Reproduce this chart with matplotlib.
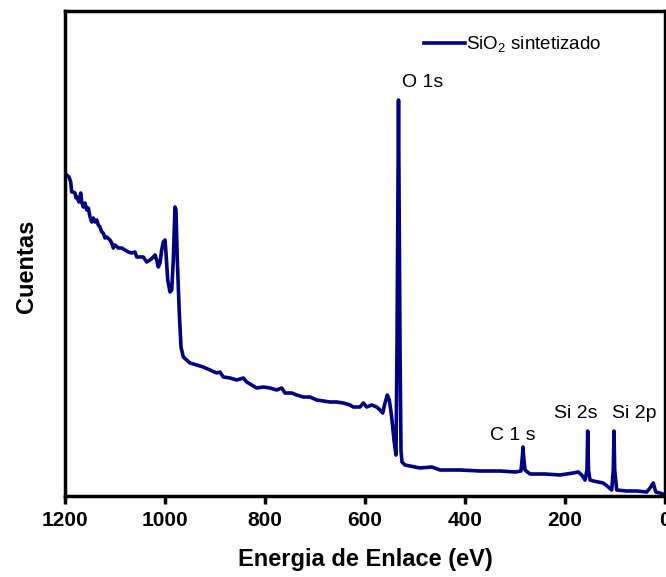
import numpy as np
import matplotlib
matplotlib.use('Agg')
import matplotlib.pyplot as plt

plt.rcParams['font.family'] = ['Liberation Sans', 'DejaVu Sans']
plt.rcParams['mathtext.fontset'] = 'custom'
plt.rcParams['mathtext.rm'] = 'Liberation Sans'

# binding energy (eV) and counts (arbitrary units)
energy = [1200, 1196.6, 1192, 1188.6, 1186.6, 1184, 1180, 1178, 1176, 1172, 1168.6,
          1166.6, 1163.4, 1160, 1156.6, 1153.4, 1150, 1146.6, 1143.4, 1140, 1136.6,
          1133.4, 1130, 1126.6, 1123.4, 1120, 1116.6, 1110, 1106.6, 1103.4, 1100,
          1093.4, 1086.6, 1080, 1073.4, 1066.6, 1060, 1056.6, 1050, 1043.4, 1036.6,
          1030, 1023.4, 1020, 1016.6, 1013.4, 1010, 1006.6, 1003.4, 1000, 998,
          994.6, 990, 986.6, 983.4, 980, 978, 975.4, 971.4, 968, 963.4, 956.6,
          950, 936.6, 923.4, 910, 896.6, 890, 883.4, 870, 856.6, 843.4, 836.6,
          826.6, 816.6, 803.4, 790, 776.6, 766.6, 760, 746.6, 736.6, 723.4, 710,
          696.6, 683.4, 670, 656.6, 643.4, 630, 623.4, 610, 603.4, 596.6, 586.6,
          576.6, 570, 564.6, 560, 555.4, 551.4, 546.6, 542, 538, 536, 533, 530,
          528, 526, 520, 510, 490, 466, 450, 410, 370, 330, 300, 288, 285, 284,
          283, 280, 270, 240, 210, 196.6, 183.4, 173.4, 166.6, 160, 156, 154.6,
          153, 150, 143.4, 133.4, 123.4, 113.4, 106.6, 103.4, 102, 100.6, 96.6,
          76.6, 56.6, 36.6, 30, 23.4, 18.6, 10, 0]
counts = [321, 321, 319, 314, 304, 304, 303, 298, 299, 294, 303,
          294, 289, 293, 286, 288, 279, 274, 278, 274, 276,
          271, 269, 264, 263, 258, 259, 256, 253, 248, 251,
          248, 248, 246, 244, 243, 244, 239, 239, 239, 234,
          236, 239, 241, 236, 229, 233, 246, 254, 256, 243,
          216, 204, 206, 236, 289, 286, 236, 183, 149, 139, 136,
          133, 131, 129, 126, 123, 124, 119, 118, 116, 118, 114,
          111, 108, 109, 108, 106, 108, 103, 103, 101, 99, 99,
          96, 95, 94, 94, 93, 91, 89, 89, 93, 89, 91,
          89, 86, 83, 93, 101, 96, 79, 56, 41, 150, 396, 150,
          45, 34, 31, 30, 28, 29, 26, 26, 25, 25, 24, 25, 41, 49,
          41, 26, 22, 22, 21, 22, 23, 24, 21, 16, 26, 65,
          26, 16, 15, 14, 13, 9, 6, 26, 65, 26, 6,
          5, 5, 4, 8, 13, 4, 3, 1]

peak_labels = ['O 1s', 'C 1 s', 'Si 2s', 'Si 2p']
peak_x = [526, 350, 222, 106]
peak_y = [409, 56, 78, 78]

fig = plt.figure(figsize=(6.66, 5.77), dpi=100)
ax = fig.add_axes([65 / 666, 81 / 577, 600 / 666, 485 / 577])

ax.plot(energy, counts, color='#000080', lw=2.6, label='SiO$_2$ sintetizado')

for lab, x, y in zip(peak_labels, peak_x, peak_y):
    ax.text(x, y, lab, fontsize=14, ha='left', va='baseline')

ax.set_xlim(1200, 0)
ax.set_ylim(0, 485)
ax.set_xticks([1200, 1000, 800, 600, 400, 200, 0])
ax.set_yticks([])
ax.tick_params(axis='x', direction='out', length=6, width=2.5, pad=5, labelsize=15)
for t in ax.get_xticklabels():
    t.set_fontweight('bold')
for s in ax.spines.values():
    s.set_linewidth(2.5)

ax.set_xlabel('Energia de Enlace (eV)', fontsize=17, fontweight='bold')
ax.xaxis.set_label_coords(0.5, -0.108)
ax.set_ylabel('Cuentas', fontsize=17, fontweight='bold')
ax.yaxis.set_label_coords(-0.045, 0.474)

ax.legend(loc='center left', bbox_to_anchor=(0.598, 0.93), frameon=False,
          borderpad=0, borderaxespad=0, handlelength=2.2, handletextpad=0.05,
          fontsize=13.5)

fig.savefig('out.png', dpi=100)
